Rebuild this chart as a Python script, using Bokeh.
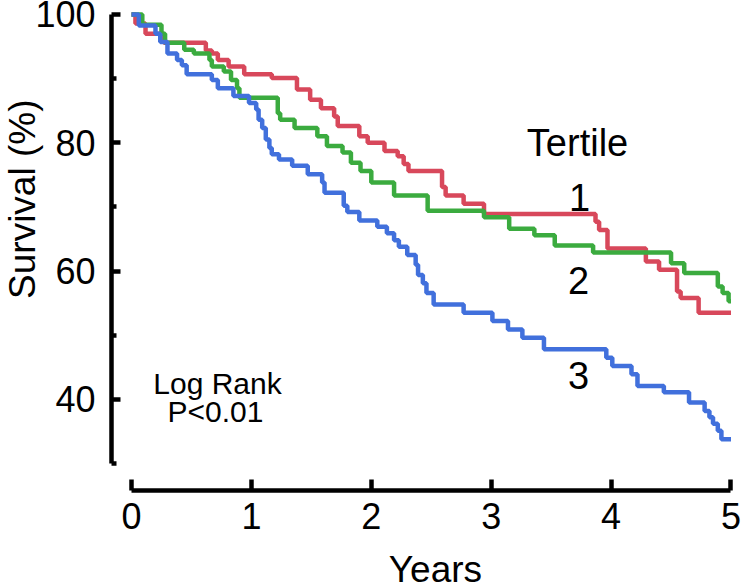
from bokeh.plotting import figure
from bokeh.models import Range1d, FixedTicker, Label
from bokeh.embed import file_html
from bokeh.resources import INLINE
import math

# ---- data ----
years_ticks = [0, 1, 2, 3, 4, 5]
surv_major = [40, 60, 80, 100]
surv_minor = [30, 50, 70, 90]

t1 = [0, 0.033, 0.117, 0.27, 0.62, 0.67, 0.72, 0.81, 0.94, 1.17, 1.38, 1.49, 1.58, 1.69, 1.72,
      1.90, 1.97, 2.11, 2.22, 2.27, 2.31, 2.59, 2.62, 2.77, 2.94, 3.87, 3.90, 3.97, 4.29, 4.40,
      4.55, 4.58, 4.73, 5.0]
s1 = [100, 98.6, 97.0, 95.6, 94.4, 93.9, 92.9, 91.9, 90.7, 90.1, 88.3, 86.7, 85.4, 84.1, 82.6,
      81.0, 80.0, 78.7, 77.9, 76.7, 75.6, 73.1, 71.8, 70.5, 68.9, 67.7, 66.4, 63.5, 61.5, 60.2,
      56.8, 55.8, 53.5, 53.5]

t2 = [0, 0.09, 0.25, 0.28, 0.44, 0.52, 0.65, 0.67, 0.77, 0.83, 0.88, 0.90, 1.22, 1.24, 1.36,
      1.55, 1.63, 1.76, 1.83, 1.91, 2.00, 2.19, 2.47, 2.94, 3.15, 3.36, 3.53, 3.85, 4.50, 4.61,
      4.89, 4.93, 4.98, 5.0]
s2 = [100, 98.4, 97.0, 95.6, 94.5, 93.9, 92.9, 91.9, 91.1, 89.8, 88.5, 87.0, 84.6, 83.6, 82.3,
      81.0, 79.5, 78.5, 76.9, 75.6, 73.8, 71.8, 69.4, 68.4, 66.6, 65.6, 64.0, 62.9, 61.2, 59.7,
      57.6, 56.6, 55.3, 55.3]

t3 = [0, 0.061, 0.20, 0.24, 0.30, 0.38, 0.42, 0.46, 0.67, 0.72, 0.85, 0.98, 1.04, 1.06, 1.09,
      1.12, 1.15, 1.17, 1.23, 1.34, 1.47, 1.59, 1.61, 1.77, 1.80, 1.90, 2.05, 2.13, 2.19, 2.23,
      2.30, 2.37, 2.39, 2.43, 2.46, 2.52, 2.77, 3.01, 3.14, 3.26, 3.44, 3.96, 4.01, 4.17, 4.22,
      4.44, 4.65, 4.78, 4.82, 4.85, 4.89, 4.92, 5.0]
s3 = [100, 98.3, 97.0, 95.7, 93.9, 92.9, 92.1, 90.7, 89.8, 88.5, 87.3, 86.2, 85.2, 83.6, 82.3,
      80.5, 79.2, 78.2, 77.4, 76.4, 75.1, 73.8, 72.2, 70.2, 69.2, 67.9, 66.9, 65.9, 64.8, 63.8,
      62.5, 61.0, 59.4, 58.1, 56.6, 54.8, 53.5, 52.2, 50.9, 49.6, 47.8, 46.5, 45.2, 43.9, 42.1,
      41.1, 39.5, 38.2, 37.2, 36.2, 35.1, 33.8, 33.8]

series = [(t1, s1, "#d8485b"), (t2, s2, "#3bab3f"), (t3, s3, "#4170dc")]

FONT = "Liberation Sans"

p = figure(width=741, height=587, output_backend="svg", toolbar_location=None,
           x_range=Range1d(-1.0926, 5.0876), y_range=Range1d(10.67, 102.18),
           min_border_left=0, min_border_right=0, min_border_top=0, min_border_bottom=0)
p.grid.visible = False
p.outline_line_color = None
p.background_fill_color = "white"
p.border_fill_color = "white"

for t, s, c in series:
    p.step(t, s, mode="after", line_color=c, line_width=4.5)

xa = p.xaxis[0]
xa.ticker = FixedTicker(ticks=years_ticks)
xa.bounds = (0, 5)
xa.fixed_location = 25.79
ya = p.yaxis[0]
ya.ticker = FixedTicker(ticks=surv_major, minor_ticks=surv_minor)
ya.bounds = (30, 100)
ya.fixed_location = -0.1668

for ax in (xa, ya):
    ax.axis_line_width = 4.5
    ax.axis_line_color = "black"
    ax.major_tick_line_width = 4.5
    ax.major_tick_line_color = "black"
    ax.minor_tick_line_width = 4.5
    ax.minor_tick_line_color = "black"
    ax.major_tick_out = 0
    ax.minor_tick_out = 0
    ax.major_label_text_font = FONT
    ax.major_label_text_font_size = "36px"
    ax.major_label_text_color = "black"

xa.major_tick_in = 11
xa.minor_tick_in = 0
xa.major_label_standoff = 12
ya.major_tick_in = 9
ya.minor_tick_in = 5
ya.major_label_standoff = 16

def add_label(x, y, text, size, align="center", baseline="middle", angle=0.0):
    p.add_layout(Label(x=x, y=y, text=text, text_font=FONT, text_font_size=size,
                       text_color="black", text_align=align, text_baseline=baseline,
                       angle=angle))

add_label(3.72, 79.9, "Tertile", "38px")
add_label(3.736, 71.5, "1", "38px")
add_label(3.728, 58.5, "2", "38px")
add_label(3.728, 43.7, "3", "38px")
add_label(0.717, 42.5, "Log Rank", "30px")
add_label(0.70, 38.1, "P<0.01", "30px")
add_label(-0.909, 71.2, "Survival (%)", "37px", angle=math.pi / 2)
add_label(2.535, 13.47, "Years", "37px")

open("out.html", "w").write(file_html(p, INLINE))
